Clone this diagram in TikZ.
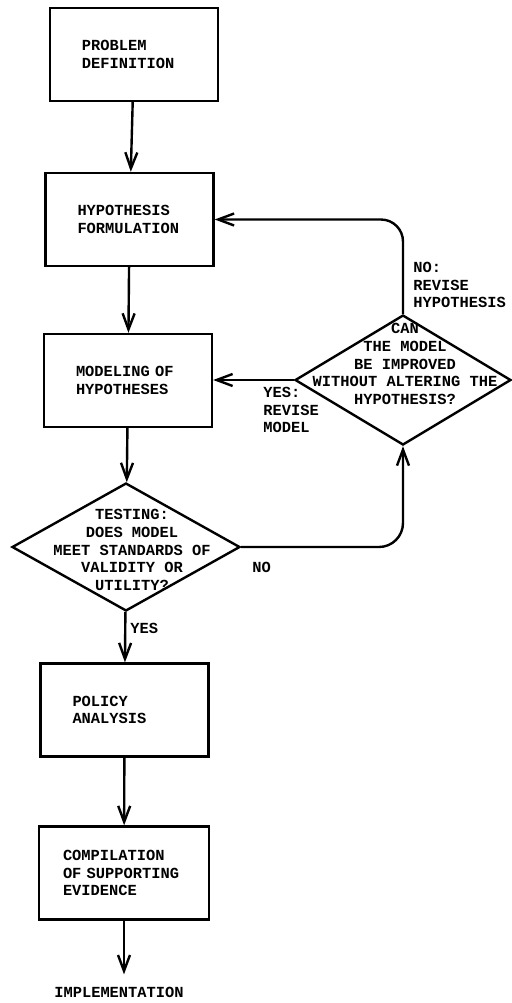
\documentclass[tikz,border=0pt]{standalone}
\usepackage{fontspec}
\setmonofont{Liberation Mono}
\usetikzlibrary{shapes.geometric,arrows.meta}

\tikzset{blk/.style={draw, rectangle, line width=1.2pt, minimum width=84pt, minimum height=46.5pt, text width=52pt, align=left, inner xsep=0pt}}
\tikzset{dec/.style={draw, diamond, line width=1.2pt, inner sep=0pt}}

\begin{document}
\begin{tikzpicture}[x=0.5pt, y=-0.5pt]
\tikzstyle{every node}=[font=\ttfamily\bfseries\fontsize{7.7}{8.8}\selectfont]
\tikzstyle{arr}=[line width=1.2pt, -{Straight Barb[length=8pt,width=6pt]}]
\tikzstyle{lbl}=[align=left, inner sep=0pt]
\useasboundingbox (0,0) rectangle (511,1003);
\node[blk] (prob) at (134,54.5) {PROBLEM\\DEFINITION};
\node[blk] (hyp) at (129.5,219.5) {HYPOTHESIS\\FORMULATION};
\node[blk] (mod) at (128,380.5) {MODELING OF\\HYPOTHESES};
\node[dec, minimum width=114pt, minimum height=64pt] (test) at (126,547) {};
\node[lbl, align=center] (testq) at (132,550) {TESTING:\\DOES MODEL\\MEET STANDARDS OF\\VALIDITY OR\\UTILITY?};
\node[dec, minimum width=108pt, minimum height=65pt] (imp) at (403,380) {};
\node[lbl, align=center] (impq) at (405,364) {CAN\\THE MODEL\\BE IMPROVED\\WITHOUT ALTERING THE\\HYPOTHESIS?};
\node[blk] (pol) at (124.5,710) {POLICY\\ANALYSIS};
\node[blk, text width=61pt, minimum width=85pt] (comp) at (124,873) {COMPILATION\\OF SUPPORTING\\EVIDENCE};
\node[inner ysep=6pt] (impl) at (119,992) {IMPLEMENTATION};
% labels on the branches
\node[lbl, anchor=west] (yes) at (130,628) {YES};
\node[lbl, anchor=west] (no) at (252,567) {NO};
\node[lbl, anchor=north west] (yesrev) at (263,387) {YES:\\REVISE\\MODEL};
\node[lbl, anchor=north west] (norev) at (413,262) {NO:\\REVISE\\HYPOTHESIS};
% main line
\draw[arr] (prob) -- (hyp);
\draw[arr] (hyp) -- (mod);
\draw[arr] (mod) -- (test);
\draw[arr] (test) -- (pol);
\draw[arr] (pol) -- (comp);
\draw[arr] (comp.south) -- (comp.south |- impl.north);
% feedback loops
\draw[arr, rounded corners=12pt] (test.east) -| (imp.south);
\draw[arr] (imp.west) -- (mod.east |- imp.west);
\draw[arr, rounded corners=11pt] (imp.north) |- (hyp.east);
\end{tikzpicture}
\end{document}
